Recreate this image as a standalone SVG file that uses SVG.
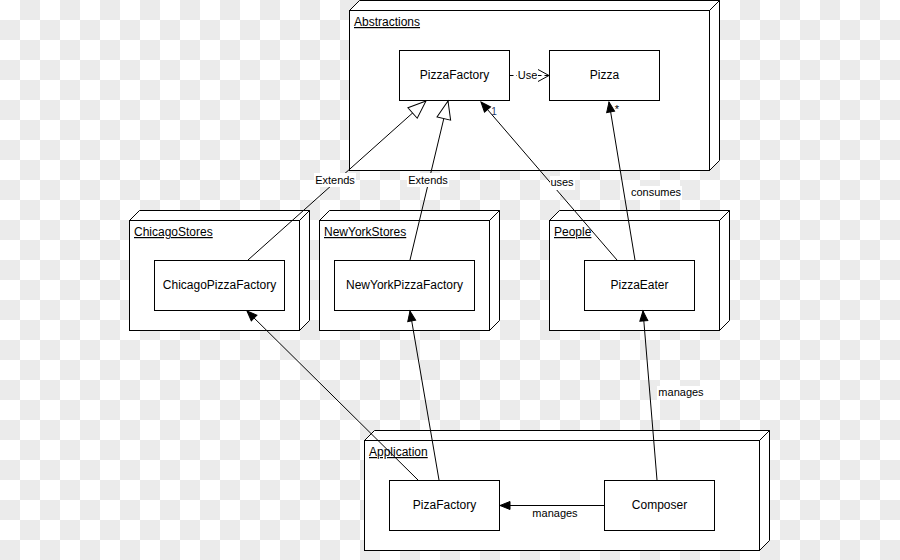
<svg xmlns="http://www.w3.org/2000/svg" width="900" height="560" viewBox="0 0 900 560">
<defs>
<pattern id="checker" width="40" height="40" patternUnits="userSpaceOnUse">
<rect width="40" height="40" fill="#ffffff"/>
<rect x="20" y="0" width="20" height="20" fill="#ebebeb"/>
<rect x="0" y="20" width="20" height="20" fill="#ebebeb"/>
</pattern>
<marker id="hollow" markerUnits="userSpaceOnUse" viewBox="-20 -9 22 18" refX="0" refY="0" markerWidth="22" markerHeight="18" orient="auto" overflow="visible">
<path d="M0,0 L-18,-7 L-18,7 Z" fill="#fff" stroke="#000" stroke-width="1"/>
</marker>
<marker id="filled" markerUnits="userSpaceOnUse" viewBox="-12 -6 14 12" refX="0" refY="0" markerWidth="14" markerHeight="12" orient="auto" overflow="visible">
<path d="M0,0 L-10,-4 L-10,4 Z" fill="#000" stroke="#000" stroke-width="1"/>
</marker>
<marker id="open" markerUnits="userSpaceOnUse" viewBox="-12 -7 14 14" refX="0" refY="0" markerWidth="14" markerHeight="14" orient="auto" overflow="visible">
<path d="M-11,-6 L0,0 L-11,6" fill="none" stroke="#000" stroke-width="1"/>
</marker>
</defs>
<style>
.pkg path, .pkg rect { fill: #fff; stroke: #000; stroke-width: 1; }
.cls rect { fill: #fff; stroke: #000; stroke-width: 1; }
text { font-family: "Liberation Sans", Arial, sans-serif; fill: #000; }
.pname { font-size: 12px; text-decoration: underline; }
.cname { font-size: 12px; text-anchor: middle; }
.elabel { font-size: 11px; text-anchor: middle; }
.lbg { fill: #fff; stroke: none; }
.edge { stroke: #000; stroke-width: 1; fill: none; }
</style>
<rect width="900" height="560" fill="url(#checker)"/>

<g id="pkg-abstractions" class="pkg">
<path d="M349.5,10.5 L359.5,0.5 L719.5,0.5 L709.5,10.5 Z"/>
<path d="M709.5,10.5 L719.5,0.5 L719.5,160.5 L709.5,170.5 Z"/>
<rect x="349.5" y="10.5" width="360" height="160"/>
<text class="pname" x="354" y="26">Abstractions</text>
</g>
<g id="pkg-chicago" class="pkg">
<path d="M129.5,220.5 L139.5,210.5 L309.5,210.5 L299.5,220.5 Z"/>
<path d="M299.5,220.5 L309.5,210.5 L309.5,320.5 L299.5,330.5 Z"/>
<rect x="129.5" y="220.5" width="170" height="110"/>
<text class="pname" x="134" y="236">ChicagoStores</text>
</g>
<g id="pkg-newyork" class="pkg">
<path d="M319.5,220.5 L329.5,210.5 L499.5,210.5 L489.5,220.5 Z"/>
<path d="M489.5,220.5 L499.5,210.5 L499.5,320.5 L489.5,330.5 Z"/>
<rect x="319.5" y="220.5" width="170" height="110"/>
<text class="pname" x="324" y="236">NewYorkStores</text>
</g>
<g id="pkg-people" class="pkg">
<path d="M549.5,220.5 L559.5,210.5 L729.5,210.5 L719.5,220.5 Z"/>
<path d="M719.5,220.5 L729.5,210.5 L729.5,320.5 L719.5,330.5 Z"/>
<rect x="549.5" y="220.5" width="170" height="110"/>
<text class="pname" x="554" y="236">People</text>
</g>
<g id="pkg-application" class="pkg">
<path d="M364.5,440.5 L374.5,430.5 L769.5,430.5 L759.5,440.5 Z"/>
<path d="M759.5,440.5 L769.5,430.5 L769.5,540.5 L759.5,550.5 Z"/>
<rect x="364.5" y="440.5" width="395" height="110"/>
<text class="pname" x="369" y="456">Application</text>
</g>

<g id="pizzafactory" class="cls">
<rect x="399.5" y="50.5" width="110" height="50"/>
<text class="cname" x="454.5" y="79">PizzaFactory</text>
</g>
<g id="pizza" class="cls">
<rect x="549.5" y="50.5" width="110" height="50"/>
<text class="cname" x="604.5" y="79">Pizza</text>
</g>
<g id="chicagopizzafactory" class="cls">
<rect x="154.5" y="260.5" width="130" height="50"/>
<text class="cname" x="219.5" y="289">ChicagoPizzaFactory</text>
</g>
<g id="newyorkpizzafactory" class="cls">
<rect x="334.5" y="260.5" width="140" height="50"/>
<text class="cname" x="404.5" y="289">NewYorkPizzaFactory</text>
</g>
<g id="pizzaeater" class="cls">
<rect x="584.5" y="260.5" width="110" height="50"/>
<text class="cname" x="639.5" y="289">PizzaEater</text>
</g>
<g id="pizafactory" class="cls">
<rect x="389.5" y="480.5" width="110" height="50"/>
<text class="cname" x="444.5" y="509">PizaFactory</text>
</g>
<g id="composer" class="cls">
<rect x="604.5" y="480.5" width="110" height="50"/>
<text class="cname" x="659.5" y="509">Composer</text>
</g>

<g id="connectors">
<line class="edge" x1="509.5" y1="75.5" x2="549" y2="75.5" stroke-dasharray="4,3" marker-end="url(#open)"/>
<rect class="lbg" x="517" y="69" width="21" height="13"/>
<text class="elabel" x="527.5" y="79">Use</text>

<line class="edge" x1="248" y1="260" x2="426" y2="101" marker-end="url(#hollow)"/>
<rect class="lbg" x="314" y="173" width="42" height="14"/>
<text class="elabel" x="335" y="184">Extends</text>

<line class="edge" x1="410" y1="260" x2="448" y2="101" marker-end="url(#hollow)"/>
<rect class="lbg" x="407" y="173" width="42" height="14"/>
<text class="elabel" x="428" y="184">Extends</text>

<line class="edge" x1="617" y1="260" x2="481" y2="102" marker-end="url(#filled)"/>
<text class="elabel" x="494" y="115" style="fill:#1f3a66;font-size:10px">1</text>
<rect class="lbg" x="550" y="176" width="25" height="14"/>
<text class="elabel" x="562" y="186">uses</text>

<line class="edge" x1="635" y1="260" x2="609" y2="102" marker-end="url(#filled)"/>
<text class="elabel" x="617" y="113">*</text>
<rect class="lbg" x="630" y="186" width="52" height="14"/>
<text class="elabel" x="656" y="196">consumes</text>

<line class="edge" x1="418" y1="480" x2="247" y2="311" marker-end="url(#filled)"/>
<line class="edge" x1="439" y1="480" x2="410" y2="311" marker-end="url(#filled)"/>

<line class="edge" x1="657" y1="480" x2="643" y2="311" marker-end="url(#filled)"/>
<rect class="lbg" x="657" y="386" width="48" height="14"/>
<text class="elabel" x="681" y="396">manages</text>

<line class="edge" x1="604" y1="505.5" x2="500" y2="505.5" marker-end="url(#filled)"/>
<text class="elabel" x="555" y="517">manages</text>
</g>
</svg>
